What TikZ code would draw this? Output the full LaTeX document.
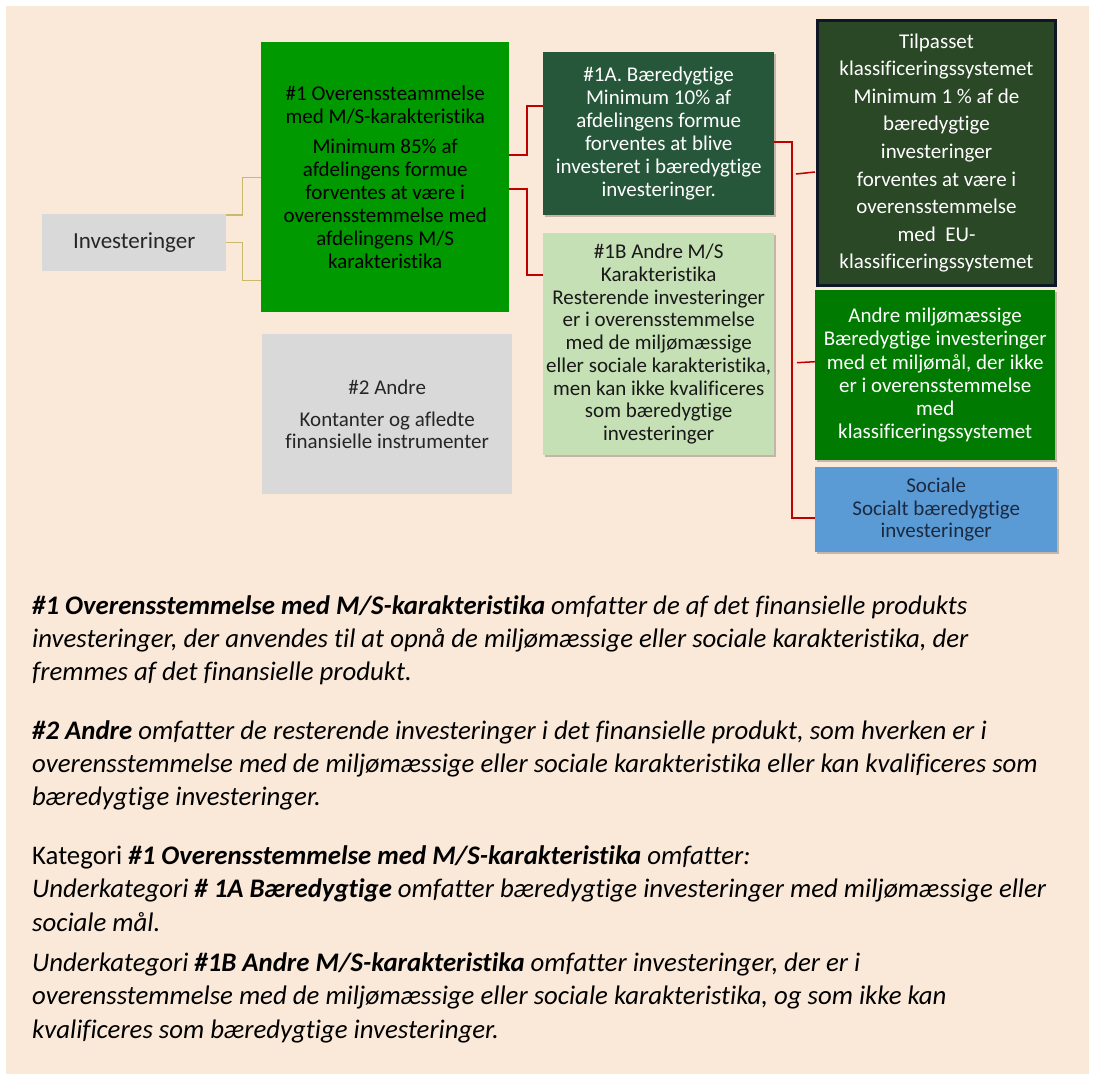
\documentclass[tikz,border=0pt]{standalone}
\usepackage{fontspec}
\setmainfont{Carlito}[Ligatures={NoCommon}]
\usetikzlibrary{calc,shadows}
\definecolor{bg}{HTML}{FAE8D8}
\definecolor{boxgray}{HTML}{D9D9D9}
\definecolor{greenA}{HTML}{009900}
\definecolor{darkA}{HTML}{26573A}
\definecolor{lightB}{HTML}{C5E0B4}
\definecolor{olive}{HTML}{2A4726}
\definecolor{navyline}{HTML}{0D1726}
\definecolor{greenM}{HTML}{007A00}
\definecolor{blueS}{HTML}{5B9BD5}
\definecolor{navytext}{HTML}{1B2A41}
\definecolor{tanline}{HTML}{C9B96A}
\definecolor{redline}{HTML}{C00000}
\definecolor{graytext}{HTML}{262626}
\tikzset{
  box/.style={anchor=north west, inner sep=0pt, align=center},
  shad/.style={drop shadow={shadow xshift=2pt, shadow yshift=-2pt, opacity=0.22, fill=black}},
  tanconn/.style={draw=tanline, line width=1.3pt},
  redconn/.style={draw=redline, line width=2pt},
  redtick/.style={draw=redline, line width=1.5pt},
  para/.style={anchor=base west, inner sep=0pt, align=left, font=\fontsize{26.8}{33}\selectfont\itshape}
}
\begin{document}
\begin{tikzpicture}[x=1pt,y=-1pt]
\useasboundingbox (0,0) rectangle (1093,1079);
\fill[white] (0,0) rectangle (1093,1079);
\fill[bg] (6,6) rectangle (1089,1074);

% boxes
\node[box, fill=boxgray, minimum width=184pt, minimum height=57pt, text=graytext,
  font=\fontsize{23}{26}\selectfont] (inv) at (42,214) {Investeringer};

\node[box, fill=greenA, minimum width=248pt, minimum height=270pt, text=black,
  font=\fontsize{21}{23}\selectfont] (b1) at (261,42)
  {\#1 Overenssteammelse\\ med M/S-karakteristika\\[7pt] Minimum 85\% af\\ afdelingens formue\\ forventes at være i\\ overensstemmelse med\\ afdelingens M/S\\ karakteristika};

\node[box, shad, fill=darkA, minimum width=231pt, minimum height=163pt, text=white,
  font=\fontsize{21}{22.9}\selectfont] (b1a) at (543,52)
  {\#1A. Bæredygtige\\ Minimum 10\% af\\ afdelingens formue\\ forventes at blive\\ investeret i bæredygtige\\ investeringer.};

\node[box, shad, fill=lightB, minimum width=231pt, minimum height=222pt, text=black!90,
  font=\fontsize{21}{22.7}\selectfont] (b1b) at (543,233)
  {\#1B Andre M/S\\ Karakteristika\\ Resterende investeringer\\ er i overensstemmelse\\ med de miljømæssige\\ eller sociale karakteristika,\\ men kan ikke kvalificeres\\ som bæredygtige\\ investeringer};

\node[box, fill=boxgray, minimum width=250pt, minimum height=160pt, text=graytext,
  font=\fontsize{21}{22}\selectfont] (b2) at (262,334)
  {\#2 Andre\\[10pt] Kontanter og afledte\\ finansielle instrumenter};

\node[box, fill=olive, draw=navyline, line width=3pt, minimum width=238pt, minimum height=265pt, text=white,
  font=\fontsize{21}{27.6}\selectfont] (tp) at (816,19)
  {Tilpasset\\ klassificeringssystemet\\ Minimum 1 \% af de\\ bæredygtige\\ investeringer\\ forventes at være i\\ overensstemmelse\\ med~ EU-\\ klassificeringssystemet};

\node[box, shad, fill=greenM, minimum width=240pt, minimum height=170pt, text=white,
  font=\fontsize{21}{23.2}\selectfont] (am) at (815,290)
  {Andre miljømæssige\\ Bæredygtige investeringer\\ med et miljømål, der ikke\\ er i overensstemmelse\\ med\\ klassificeringssystemet};

\node[box, shad, fill=blueS, minimum width=242pt, minimum height=85pt, text=navytext,
  font=\fontsize{21}{22.8}\selectfont] (so) at (815,467)
  {Sociale\\ Socialt bæredygtige\\ investeringer};

% connectors
\draw[tanconn] ([yshift=-1pt]inv.north east) -- ++(16,0) |- (b1.west);
\draw[tanconn] (inv.east) -- ++(16,0) |- ([yshift=32pt]b1.south west);

\draw[redconn] ([yshift=22pt]b1.east) -- ++(18,0) |- ([yshift=27.5pt]b1a.west);
\draw[redconn] ([yshift=-12pt]b1.east) -- ++(18,0) |- ([yshift=69pt]b1b.west);

\draw[redconn] ([yshift=-8.5pt]b1a.east) -- ++(18,0) |- ([yshift=-8.5pt]so.west);
\coordinate (t1) at ($(tp.west)+(-20,21)$);
\coordinate (t2) at ($(am.west)+(-18,-12.5)$);
\draw[redtick] (t1) -- ($(tp.west)+(-1,19)$);
\draw[redtick] (t2) -- ($(am.west)+(0,-13.5)$);

% text paragraphs (anchor = baseline of last line)
\node[para] (p1) at (32,680.5)
  {{\bfseries\#1 Overensstemmelse med M/S-karakteristika} omfatter de af det finansielle produkts\\
   investeringer, der anvendes til at opnå de miljømæssige eller sociale karakteristika, der\\
   fremmes af det finansielle produkt.};
\node[para] (p2) at (32,805.5)
  {{\bfseries\#2 Andre} omfatter de resterende investeringer i det finansielle produkt, som hverken er i\\
   overensstemmelse med de miljømæssige eller sociale karakteristika eller kan kvalificeres som\\
   bæredygtige investeringer.};
\node[para, font=\fontsize{26.8}{33.5}\selectfont\itshape] (p3) at (32,1038)
  {{\upshape Kategori} {\bfseries\#1 Overensstemmelse med M/S-karakteristika} omfatter:\\
   Underkategori {\bfseries\# 1A Bæredygtige} omfatter bæredygtige investeringer med miljømæssige eller\\
   sociale mål.\\[6.5pt]
   Underkategori {\bfseries\#1B Andre M/S-karakteristika} omfatter investeringer, der er i\\
   overensstemmelse med de miljømæssige eller sociale karakteristika, og som ikke kan\\
   kvalificeres som bæredygtige investeringer.};
\end{tikzpicture}
\end{document}
